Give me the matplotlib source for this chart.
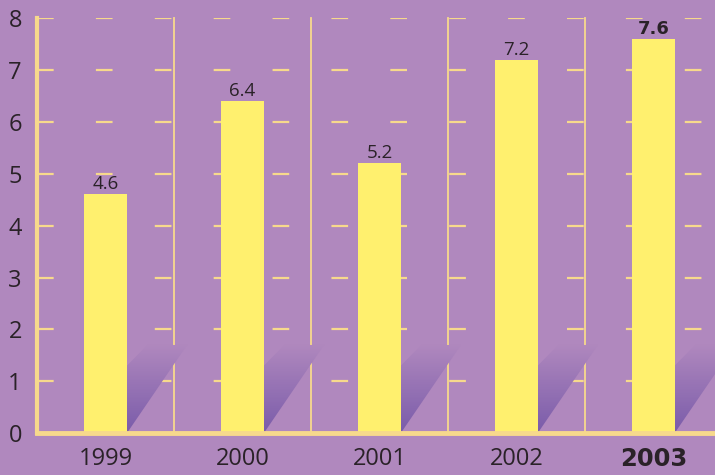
import numpy as np
import matplotlib.pyplot as plt
from matplotlib.patches import Polygon

years = ['1999', '2000', '2001', '2002', '2003']
values = [4.6, 6.4, 5.2, 7.2, 7.6]

bg = '#B088BE'
bar_col = '#FFF06E'
line_col = '#F7D98C'
txt = '#2A2228'

fig = plt.figure(figsize=(7.15, 4.75), dpi=100, facecolor=bg)
ax = fig.add_axes([0.052, 0.088, 0.948, 0.874], facecolor=bg)

x = np.arange(len(years))
w = 0.31
ax.set_xlim(-0.5, 4.45)
ax.set_ylim(0, 8)

# gridlines (dashed)
for yv in range(1, 9):
    ax.axhline(yv, color=line_col, lw=1.6, dashes=(7.5, 19), zorder=1)
# separators
for xv in np.arange(0.5, 5, 1):
    ax.plot([xv, xv], [0, 8], color=line_col, lw=1.3, zorder=1, clip_on=False)

# shadows with gradient
grad = np.linspace(0, 1, 100).reshape(-1, 1)
cmap = plt.matplotlib.colors.LinearSegmentedColormap.from_list('sh', ['#7A5CAA', bg])
for xi in x:
    xr = xi + w / 2
    poly = Polygon([(xr, 0), (xr, 1.3), (xr + 0.15, 1.7), (xr + 0.44, 1.7)],
                   closed=True, facecolor='none', edgecolor='none')
    ax.add_patch(poly)
    im = ax.imshow(grad, cmap=cmap, extent=(xr, xr + 0.45, 0, 1.7), origin='lower',
                   aspect='auto', zorder=1.5)
    im.set_clip_path(poly)

ax.bar(x, values, width=w, color=bar_col, zorder=2)
for i, (xi, v) in enumerate(zip(x, values)):
    if i == 4:
        ax.text(xi, v + 0.02, f'{v}', ha='center', va='bottom', fontsize=13, color=txt,
                fontweight='bold', family='DejaVu Sans')
    else:
        ax.text(xi, v + 0.02, f'{v}', ha='center', va='bottom', fontsize=13.5, color=txt,
                family='Open Sans')

for s in ['top', 'right']:
    ax.spines[s].set_visible(False)
ax.spines['left'].set_color(line_col)
ax.spines['left'].set_linewidth(3)
ax.spines['bottom'].set_color(line_col)
ax.spines['bottom'].set_linewidth(3.5)

ax.set_yticks(range(0, 9))
ax.set_yticklabels([str(i) for i in range(9)], fontsize=17, color=txt, family='Open Sans')
ax.set_xticks(x)
ax.set_xticklabels(years, fontsize=17, color=txt, family='Open Sans')
lab = ax.get_xticklabels()[4]
lab.set_fontweight('bold')
lab.set_family('DejaVu Sans')
lab.set_fontsize(17.5)
ax.tick_params(length=0)
ax.tick_params(axis='x', pad=10)
ax.tick_params(axis='y', pad=11)

fig.savefig('out.png', dpi=100, facecolor=bg)
